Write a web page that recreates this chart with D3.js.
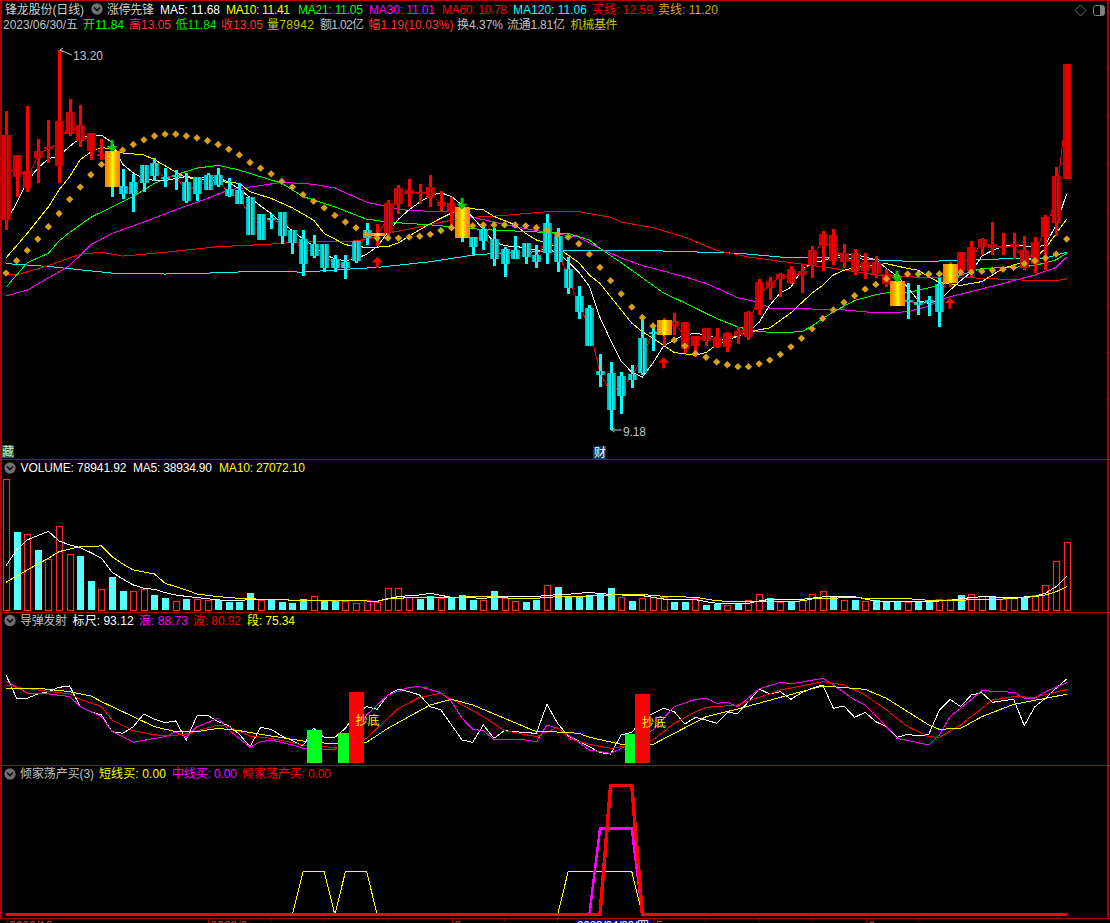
<!DOCTYPE html>
<html><head><meta charset="utf-8">
<style>html,body{margin:0;padding:0;background:#000;overflow:hidden}svg{display:block}text{font-family:"Liberation Sans","Noto Sans CJK SC",sans-serif;font-size:12px}</style>
<script src="https://cdn.jsdelivr.net/npm/d3@7/dist/d3.min.js"></script>
</head><body><div id="c"></div>
<script>
const open=[11.40,11.86,11.74,12.06,12.15,11.97,12.31,12.24,12.13,12.09,
12.13,11.76,11.80,11.98,12.00,11.86,11.88,11.80,11.86,11.88,
11.88,11.73,11.72,11.65,11.47,11.42,11.49,11.30,11.20,11.15,
11.15,10.99,10.96,11.18,11.30,11.23,11.26,11.57,11.68,11.69,
11.63,11.55,11.49,11.54,11.22,11.31,11.20,11.09,11.08,11.16,
11.03,11.37,11.23,10.88,10.60,10.47,9.80,9.78,9.75,9.77,
10.15,10.22,10.18,10.28,10.04,10.07,10.12,10.06,10.06,10.18,
10.16,10.45,10.68,10.78,10.74,10.82,10.93,11.13,10.97,10.96,
10.86,10.86,10.83,10.72,10.76,10.55,10.53,10.55,10.72,10.74,
10.86,10.86,11.12,11.11,11.12,11.12,10.89,10.94,11.22,11.37,11.84];
const close=[12.30,12.09,11.92,12.13,12.17,12.45,12.54,12.41,12.32,12.10,
11.75,11.68,11.68,11.79,11.87,11.85,11.87,11.60,11.68,11.72,
11.77,11.66,11.57,11.24,11.19,11.40,11.23,11.16,10.94,11.02,
10.89,10.89,10.89,10.97,11.21,11.26,11.58,11.74,11.72,11.70,
11.75,11.59,11.58,11.21,11.12,11.18,10.99,10.94,10.99,11.01,
10.96,11.05,10.96,10.68,10.43,10.07,9.76,9.39,9.54,9.71,
9.78,10.20,10.34,10.33,10.32,10.17,10.26,10.16,10.21,10.23,
10.43,10.75,10.76,10.83,10.88,10.86,11.08,11.25,11.24,11.05,
11.05,10.96,10.96,10.83,10.49,10.54,10.50,10.52,10.43,10.94,
11.06,11.12,11.20,11.15,11.13,11.15,11.08,11.17,11.43,11.87,13.05];
const high=[12.55,12.09,12.61,12.26,12.46,13.20,12.68,12.62,12.32,12.26,
12.13,11.94,11.89,11.98,12.06,11.95,11.93,11.90,11.86,11.90,
11.95,11.85,11.79,11.65,11.47,11.47,11.49,11.30,11.30,11.24,
11.15,11.03,11.03,11.18,11.37,11.36,11.61,11.77,11.84,11.78,
11.88,11.71,11.65,11.54,11.22,11.35,11.32,11.12,11.23,11.16,
11.14,11.46,11.32,11.01,10.70,10.50,9.98,9.90,9.79,9.87,
10.35,10.28,10.37,10.42,10.32,10.17,10.26,10.26,10.22,10.27,
10.44,10.78,10.80,10.84,10.92,10.94,11.13,11.29,11.31,11.15,
11.10,11.05,11.02,10.88,10.76,10.73,10.71,10.60,10.79,10.96,
11.06,11.18,11.21,11.38,11.26,11.26,11.23,11.22,11.45,11.96,13.05];
const low=[11.30,11.65,11.70,11.79,12.00,11.79,12.29,12.17,12.04,12.04,
11.65,11.62,11.49,11.70,11.81,11.75,11.72,11.58,11.60,11.72,
11.75,11.65,11.57,11.24,11.19,11.31,11.15,11.04,10.81,11.00,
10.85,10.85,10.78,10.95,11.14,11.13,11.23,11.46,11.54,11.57,
11.54,11.49,11.33,11.17,11.02,11.08,10.91,10.80,10.99,10.94,
10.89,10.94,10.85,10.62,10.35,10.07,9.63,9.18,9.35,9.62,
9.76,10.02,10.07,10.18,9.99,9.95,10.07,10.05,10.00,10.09,
10.13,10.40,10.55,10.59,10.72,10.63,10.79,10.86,10.93,10.89,
10.82,10.78,10.79,10.69,10.49,10.35,10.40,10.39,10.27,10.69,
10.81,10.80,11.03,11.03,11.03,10.99,10.87,10.84,10.87,11.23,11.84];
const buyLine=[11.85,11.98,11.83,12.09,12.16,12.21,12.42,12.32,12.22,12.10,
11.94,11.72,11.74,11.88,11.93,11.85,11.87,11.70,11.77,11.80,
11.82,11.69,11.64,11.44,11.33,11.41,11.36,11.23,11.07,11.08,
11.02,10.94,10.92,11.07,11.25,11.24,11.42,11.65,11.70,11.69,
11.69,11.57,11.53,11.37,11.17,11.24,11.09,11.01,11.03,11.08,
10.99,11.21,11.09,10.78,10.51,10.27,9.78,9.58,9.64,9.74,
9.96,10.21,10.26,10.30,10.18,10.12,10.19,10.11,10.13,10.20,
10.29,10.60,10.72,10.80,10.81,10.84,11.00,11.19,11.10,11.00,
10.95,10.91,10.89,10.77,10.62,10.54,10.51,10.53,10.57,10.84,
10.96,10.99,11.16,11.13,11.12,11.13,10.98,11.05,11.32,11.62,12.59];
const sellLine=[10.84,10.97,11.08,11.20,11.33,11.47,11.62,11.75,11.88,11.99,
12.09,12.14,12.20,12.25,12.29,12.31,12.31,12.29,12.27,12.24,
12.20,12.15,12.09,12.01,11.95,11.89,11.81,11.75,11.67,11.60,
11.53,11.45,11.38,11.32,11.25,11.21,11.21,11.21,11.22,11.23,
11.25,11.29,11.32,11.33,11.34,11.35,11.35,11.35,11.35,11.34,
11.32,11.29,11.25,11.22,11.15,11.04,10.90,10.76,10.62,10.48,
10.37,10.28,10.21,10.13,10.07,9.99,9.95,9.90,9.87,9.85,
9.85,9.88,9.92,9.98,10.06,10.15,10.25,10.36,10.45,10.53,
10.60,10.67,10.72,10.78,10.81,10.83,10.83,10.83,10.83,10.85,
10.85,10.85,10.86,10.87,10.88,10.90,10.94,10.97,11.00,11.04,11.20];
const ma5=[11.38,11.58,11.81,11.95,12.05,12.08,12.18,12.27,12.30,12.30,
12.22,11.99,11.90,11.84,11.82,11.82,11.84,11.86,11.85,11.85,
11.85,11.80,11.73,11.64,11.55,11.47,11.37,11.29,11.20,11.13,
11.04,10.99,10.97,10.99,11.04,11.12,11.27,11.41,11.51,11.59,
11.66,11.69,11.65,11.56,11.43,11.30,11.17,11.13,11.12,11.11,
11.08,11.09,11.06,10.96,10.85,10.70,10.37,10.13,9.91,9.79,
9.74,9.89,10.07,10.13,10.19,10.20,10.19,10.15,10.13,10.17,
10.22,10.32,10.50,10.63,10.69,10.87,10.95,10.97,11.01,11.04,
11.04,11.01,10.98,10.89,10.81,10.69,10.55,10.52,10.55,10.66,
10.76,10.85,11.02,11.08,11.12,11.14,11.13,11.11,11.14,11.35,11.68];
const ma10Idx=[0,2,4,5,6,7,8,9,10,11,13,14,16,17,20,22,23,25,27,29,30,32,34,36,37,39,41,43,45,46,48,49,50,51,52,54,55,56,58,59,60,61,63,65,66,67,69,71,72,74,76,77,78,79,80,83,85,86,87,88,90,92,93,94,96,97,98,99,100];
const ma10Val=[11.00,11.26,11.54,11.72,11.86,12.04,12.12,12.17,12.15,12.11,12.09,12.04,11.91,11.85,11.81,11.79,11.70,11.63,11.53,11.40,11.26,11.14,11.11,11.12,11.16,11.30,11.42,11.53,11.51,11.44,11.35,11.26,11.19,11.16,11.11,10.95,10.82,10.73,10.45,10.31,10.22,10.15,10.00,9.97,10.00,10.08,10.18,10.24,10.26,10.42,10.63,10.71,10.82,10.87,10.90,10.94,10.89,10.87,10.80,10.74,10.71,10.75,10.82,10.89,10.96,11.00,11.10,11.26,11.41];
const ma21Idx=[0,2,4,5,6,8,10,12,14,16,18,20,22,24,26,28,31,34,36,40,45,51,53,55,56,58,60,62,65,67,69,71,73,75,76,77,78,80,82,83,85,86,88,90,92,95,97,99,100];
const ma21Val=[10.69,10.95,11.05,11.18,11.27,11.43,11.54,11.65,11.79,11.88,11.95,11.98,11.93,11.86,11.79,11.65,11.54,11.41,11.38,11.35,11.30,11.27,11.26,11.19,11.10,10.95,10.79,10.63,10.47,10.36,10.27,10.22,10.21,10.22,10.28,10.36,10.43,10.55,10.61,10.63,10.63,10.66,10.71,10.82,10.89,10.90,10.92,10.98,11.05];
const ma30Idx=[0,2,4,6,8,10,13,16,19,21,23,26,29,31,34,36,38,42,44,46,48,51,54,56,58,60,64,66,69,71,72,76,79,82,85,87,88,89,94,97,99,100];
const ma30Val=[10.60,10.66,10.79,10.92,11.14,11.26,11.38,11.51,11.63,11.72,11.75,11.80,11.78,11.74,11.59,11.54,11.50,11.49,11.43,11.38,11.33,11.27,11.22,11.10,11.00,10.92,10.80,10.73,10.58,10.53,10.47,10.46,10.45,10.42,10.43,10.49,10.55,10.59,10.73,10.82,10.90,11.01];
const ma60Idx=[0,1,4,7,9,11,15,20,24,28,33,34,36,39,42,44,47,51,54,57,58,61,64,67,70,74,78,82,87,91,97,99,100];
const ma60Val=[10.83,10.82,10.92,11.04,11.06,11.02,11.06,11.12,11.14,11.17,11.18,11.20,11.26,11.33,11.40,11.43,11.45,11.49,11.49,11.43,11.38,11.32,11.22,11.08,11.01,10.95,10.89,10.82,10.79,10.79,10.76,10.76,10.78];
const ma120Idx=[0,4,10,15,19,24,28,32,35,40,44,45,53,60,66,69,74,79,82,86,91,94,98,100];
const ma120Val=[10.94,10.91,10.84,10.83,10.84,10.86,10.85,10.88,10.90,10.96,11.03,11.04,11.08,11.08,11.06,11.05,11.00,11.00,10.98,10.96,10.98,10.99,11.00,11.06];
const goldIdx=[10,35,43,62,84,89];
const sellSignalIdx=[10,43,84];
const sellSignalVal=[12.12,11.51,10.74];
const buySignalIdx=[35,62,89];
const buySignalVal=[11.01,9.95,10.58];
const volume=[152900,91000,88300,70000,59100,97600,65000,63000,33800,24100,
38500,22200,21800,24100,17500,14000,10100,12800,13200,11300,
11300,9300,9300,19800,11300,12100,9300,8200,12800,15900,
11300,11300,10900,8200,11300,9700,25300,25300,15200,13200,
15900,13600,15600,17500,11700,11300,22200,14400,10100,9300,
11700,28800,26800,15900,14800,17500,19800,25700,14800,10500,
13600,15200,14800,9300,9300,13600,5800,7400,6200,7400,
11300,18300,14000,9700,9700,11300,18300,21800,15900,11300,
11700,10500,11300,9700,10900,9700,9300,9300,12400,12400,
17500,18300,15900,15900,12400,14400,13600,17100,28800,56800,78941.92];
const volUp=[1,0,1,0,1,1,1,0,0,1, 0,0,1,1,0,0,1,0,1,1, 0,0,0,0,1,0,0,0,0,1, 0,0,1,1,1,1,1,1,1,0,
0,1,0,0,0,1,0,1,1,0, 0,1,0,0,0,0,0,0,1,0, 1,1,1,0,0,1,0,0,1,0, 1,1,0,1,0,1,1,1,0,1,
0,1,0,0,0,1,0,0,1,1, 0,1,1,0,1,1,0,1,1,1,1];
const volMa5Idx=[0,1,2,4,5,6,7,8,9,10,11,12,13,14,15,16,17,19,20,22,23,26,28,30,33,35,36,37,38,39,40,41,42,44,45,46,50,52,53,54,55,56,57,58,60,61,62,65,66,67,70,71,72,75,77,80,81,82,84,87,89,90,92,95,97,98,99,100];
const volMa5Val=[51700,70000,81700,91800,80500,75900,72700,66900,60300,44000,36200,29200,25300,24100,20200,17500,15900,13200,11700,10900,12400,12100,10500,11300,10900,10100,13200,15600,16700,17500,19500,17100,14800,14400,13200,15600,15900,17900,18300,19500,20600,19100,18300,17500,16700,14800,12800,12100,9700,7800,7800,10500,12400,12400,15200,15600,12800,10500,9700,9700,11300,13200,15600,14400,15900,19500,27200,38934.90];
const volMa10Idx=[0,2,4,5,7,9,10,11,12,14,15,17,18,20,22,25,28,33,35,36,38,41,46,48,50,52,54,57,60,61,63,65,66,67,68,72,75,76,77,80,82,85,87,90,91,94,95,97,98,99,100];
const volMa10Val=[32300,46700,60300,68100,73900,74700,62200,53700,46700,42000,31100,23300,18700,15600,13600,12100,11300,10900,10100,12800,14400,14800,15600,13200,13600,15600,15900,17500,18300,16700,15600,14800,12800,10900,10100,10100,10500,12800,13600,14400,13200,13200,11300,10500,12800,12800,13600,15600,17500,21400,27072.10];
const rulerVal=[97.7,70.7,70.7,75.7,78.4,83.4,85.0,61.0,55.2,51.4,
32.0,30.1,37.8,52.5,46.3,42.5,44.4,22.4,50.2,51.0,
43.6,39.0,28.9,14.6,37.0,34.7,27.0,21.6,15.4,35.9,
25.5,25.5,35.9,53.3,61.0,57.9,74.5,81.1,78.4,74.5,
61.0,57.2,39.8,22.4,19.7,39.8,24.3,33.2,32.0,30.9,
30.1,63.7,41.7,27.0,21.2,14.6,7.7,6.1,28.2,31.3,
45.6,53.3,59.1,55.2,40.9,48.6,45.6,41.7,54.1,53.3,
66.8,81.5,75.7,78.4,69.5,77.2,82.3,86.1,59.1,61.8,
48.6,54.4,43.6,37.8,25.5,28.9,27.0,28.9,57.2,69.5,
61.0,74.5,77.2,66.0,68.0,69.5,39.0,61.0,70.7,82.3,93.12];
const langIdx=[0,1,2,4,6,7,9,10,12,14,15,16,17,18,20,21,23,24,25,27,28,31,33,34,36,38,39,41,42,43,44,45,46,49,50,51,52,53,55,57,58,61,63,65,66,67,68,69,71,73,74,77,78,80,81,83,84,87,88,89,90,92,95,96,97,98,100];
const langVal=[90.0,84.2,76.5,75.7,72.6,61.0,49.4,32.0,19.7,24.3,26.2,32.0,25.5,37.8,47.5,34.0,13.9,20.4,22.4,16.6,12.7,11.5,28.2,51.4,74.5,83.4,84.2,77.2,66.8,47.5,34.7,33.2,23.1,22.4,20.4,39.8,35.9,28.2,10.8,6.9,12.7,34.0,61.0,69.5,70.7,64.9,66.0,61.0,81.5,89.2,87.3,93.9,86.1,68.7,63.0,37.8,24.3,16.6,28.2,49.4,59.1,79.6,77.6,70.7,70.7,78.4,88.73];
const boIdx=[0,1,3,6,7,9,10,12,14,16,17,20,21,23,25,28,30,32,34,37,39,41,43,45,47,50,52,53,55,57,59,61,63,65,66,69,71,73,75,77,79,81,83,85,87,88,90,92,93,95,97,100];
const boVal=[86.5,83.4,80.3,75.7,69.5,61.0,45.6,33.2,28.2,27.8,29.3,39.8,37.8,27.0,24.3,16.6,14.6,12.7,24.3,59.1,71.8,76.5,63.0,49.4,33.2,26.2,37.1,24.3,17.3,12.7,16.6,22.4,41.7,55.2,60.2,63.0,71.8,80.3,85.0,90.0,86.1,74.5,57.2,37.8,26.2,25.5,39.8,59.1,68.7,72.6,71.8,80.92];
const duanIdx=[0,3,6,8,9,12,14,16,18,20,22,25,28,31,34,36,40,42,44,47,50,52,54,55,58,61,63,66,69,73,77,81,83,87,88,90,92,95,98,100];
const duanVal=[82.3,82.3,78.4,73.4,66.8,49.4,37.8,32.0,32.0,35.9,33.2,27.0,21.2,17.7,19.7,35.9,63.0,69.5,63.0,47.5,32.0,31.6,30.1,25.5,17.3,17.3,30.1,49.4,58.3,71.8,85.0,81.1,70.7,39.8,34.7,35.9,49.4,63.7,70.7,75.34];
const signalBarIdx=[29,32,33,59,60];
const signalBarVal=[34.0,30.5,78.0,29.3,75.7];
const signalBarRed=[0,0,1,0,1];
const signalBase=-4.3;
const shortIdx=[0,27,28,30,31,32,34,35,52,53,59,60,100];
const shortVal=[0,0,1,1,0,1,1,0,0,1,1,0,0];
const midIdx=[0,55,56,59,60,100];
const midVal=[0,0,2,2,0,0];
const allInIdx=[0,56,57,59,60,100];
const allInVal=[0,0,3,3,0,0];
const axisMajorIdx=[0,19,42,61,81];
const axisMajorLabels=["2022/12","2023/2","3","5","6"];
const axisMinorIdx=[25,30,36,47,52,57,66,71,76,86];
const priceTicks=[13,12.5,12,11.5,11,10.5,10,9.5];

const W=1110,H=923;
const svg=d3.select("#c").append("svg").attr("width",W).attr("height",H);
svg.append("rect").attr("width",W).attr("height",H).attr("fill","#000");
const defs=svg.append("defs");
function grad(id,st){const g=defs.append("linearGradient").attr("id",id).attr("x1",0).attr("x2",1).attr("y1",0).attr("y2",0);
 st.forEach(s=>g.append("stop").attr("offset",s[0]).attr("stop-color",s[1]));}
grad("gRed",[[0,"#e00000"],[.22,"#c00000"],[.42,"#ff0000"],[.5,"#7a0000"],[.58,"#ff0000"],[.78,"#c00000"],[1,"#a00000"]]);
grad("gCyan",[[0,"#00a8a8"],[.3,"#00e8e8"],[.45,"#00ffff"],[.5,"#005858"],[.55,"#00ffff"],[.7,"#00e0e0"],[1,"#009090"]]);
grad("gGold",[[0,"#ff7a00"],[.3,"#ffae00"],[.5,"#ffff00"],[.7,"#ffae00"],[1,"#ff7a00"]]);

const n=close.length;
const x=d3.scaleLinear().domain([0,100]).range([6,1066.7]);
const yP=d3.scaleLinear().domain([9.18,13.20]).range([430,50]);
const yV=d3.scaleLinear().domain([0,78941.92]).range([610,542.3]);
const yS=d3.scaleLinear().domain([0,100]).range([759.3,673]);
const yB=d3.scaleLinear().domain([0,3]).range([914.7,785.7]);

function poly(g,idx,val,scale,color,w){
 const pts=idx.map((k,j)=>[k,val[j]]);
 g.append("path").attr("d",d3.line().x(d=>x(d[0])).y(d=>scale(d[1]))(pts))
  .attr("fill","none").attr("stroke",color).attr("stroke-width",w).attr("shape-rendering","crispEdges");
}
const seq=d3.range(n);

// ---- Main panel
const main=svg.append("g");
poly(main,ma120Idx,ma120Val,yP,"#00ffff",1);
poly(main,ma60Idx,ma60Val,yP,"#ff0000",1);
poly(main,ma30Idx,ma30Val,yP,"#ff00ff",1);
poly(main,ma21Idx,ma21Val,yP,"#00ff00",1);
poly(main,ma10Idx,ma10Val,yP,"#ffff00",1);
poly(main,seq,ma5,yP,"#ffffff",1);
poly(main,seq,buyLine,yP,"#e00000",1);
const cand=main.selectAll("g.c").data(seq).join("g");
cand.append("rect").attr("x",i=>Math.round(x(i))-1).attr("width",3)
 .attr("y",i=>yP(high[i])).attr("height",i=>Math.max(1,yP(low[i])-yP(high[i])))
 .attr("fill",i=>close[i]>=open[i]?"#ff0000":"#00ffff").attr("shape-rendering","crispEdges");
cand.append("rect").attr("x",i=>Math.round(x(i))-4).attr("width",9)
 .attr("y",i=>yP(Math.max(open[i],close[i]))).attr("height",i=>Math.max(2,Math.abs(yP(open[i])-yP(close[i]))))
 .attr("fill",i=>close[i]>=open[i]?"url(#gRed)":"url(#gCyan)").attr("shape-rendering","crispEdges");
main.selectAll("path.dot").data(sellLine).join("path").attr("class","dot")
 .attr("d",d3.symbol(d3.symbolSquare,27))
 .attr("transform",(d,i)=>`translate(${x(i)},${yP(d)}) rotate(45)`).attr("fill","#d8a018");
main.selectAll("rect.gold").data(goldIdx).join("rect").attr("class","gold")
 .attr("x",i=>Math.round(x(i))-7).attr("width",15)
 .attr("y",i=>yP(Math.max(open[i],close[i]))).attr("height",i=>Math.max(3,Math.abs(yP(open[i])-yP(close[i]))))
 .attr("fill","url(#gGold)").attr("shape-rendering","crispEdges");
main.selectAll("path.sell").data(sellSignalIdx).join("path").attr("class","sell")
 .attr("d","M-1.5,-12L1.5,-12L1.5,-6L5.5,-6L0,0L-5.5,-6L-1.5,-6Z")
 .attr("transform",(k,j)=>`translate(${x(k)},${yP(sellSignalVal[j])})`).attr("fill","#00cc00");
main.selectAll("path.buy").data(buySignalIdx).join("path").attr("class","buy")
 .attr("d","M-1.5,11L1.5,11L1.5,5.5L5.5,5.5L0,0L-5.5,5.5L-1.5,5.5Z")
 .attr("transform",(k,j)=>`translate(${x(k)},${yP(buySignalVal[j])})`).attr("fill","#ff0000");

function txt(xp,yp,s,c,w,anchor){
 const t=svg.append("text").attr("x",xp).attr("y",yp).attr("fill",c).text(s);
 if(w){t.attr("textLength",w).attr("lengthAdjust","spacing");}
 if(anchor)t.attr("text-anchor",anchor);
 return t;
}
// high/low annotations
const hiIdx=5,loIdx=57;
svg.append("path").attr("d",`M${x(hiIdx)+1},${yP(13.2)}L${x(hiIdx)+13},${yP(13.2)+5}M${x(hiIdx)+1},${yP(13.2)}l3,-2M${x(hiIdx)+1},${yP(13.2)}l3,2`).attr("stroke","#c0c0c0").attr("fill","none");
txt(73,60,"13.20","#c0c0c0",30);
svg.append("path").attr("d",`M${x(loIdx)+1},${yP(9.18)}L${x(loIdx)+11},${yP(9.18)}M${x(loIdx)+1},${yP(9.18)}l3,-2M${x(loIdx)+1},${yP(9.18)}l3,2`).attr("stroke","#c0c0c0").attr("fill","none");
txt(623,435.5,"9.18","#c0c0c0",23);
// event tags
svg.append("rect").attr("x",2).attr("y",445).attr("width",12).attr("height",13).attr("fill","#006400");
txt(2,456,"藏","#e0e0e0");
svg.append("rect").attr("x",593).attr("y",446).attr("width",13).attr("height",13).attr("fill","#0a3a6a");
txt(594,457,"财","#ffffff");

// ---- Volume panel
const vol=svg.append("g");
vol.selectAll("rect").data(seq).join("rect")
 .attr("x",i=>Math.round(x(i))-3+(volUp[i]?.5:0)).attr("width",i=>volUp[i]?6:7)
 .attr("y",i=>Math.round(yV(volume[i]))+(volUp[i]?.5:0)).attr("height",i=>610-Math.round(yV(volume[i])))
 .attr("fill",i=>volUp[i]?"#000":"#54ffff").attr("stroke",i=>volUp[i]?"#ff2828":"none").attr("stroke-width",1.2);
poly(vol,volMa5Idx,volMa5Val,yV,"#ffffff",1);
poly(vol,volMa10Idx,volMa10Val,yV,"#ffff00",1);

// ---- Missile panel
const mis=svg.append("g");
poly(mis,seq,rulerVal,yS,"#ffffff",1);
poly(mis,langIdx,langVal,yS,"#ff00ff",1);
poly(mis,boIdx,boVal,yS,"#ff0000",1);
poly(mis,duanIdx,duanVal,yS,"#ffff00",1);
mis.selectAll("rect").data(signalBarIdx).join("rect")
 .attr("x",k=>Math.round(x(k))-7).attr("width",15)
 .attr("y",(k,j)=>yS(signalBarVal[j])).attr("height",(k,j)=>yS(signalBase)-yS(signalBarVal[j]))
 .attr("fill",(k,j)=>signalBarRed[j]?"#ff0000":"#00ff20").attr("shape-rendering","crispEdges");
txt(355.5,725,"抄底","#ffff00");
txt(642,727,"抄底","#ffff00");

// ---- Bottom panel
const bot=svg.append("g");
poly(bot,shortIdx,shortVal,yB,"#ffff00",1);
poly(bot,midIdx,midVal,yB,"#ff00ff",2.5);
poly(bot,allInIdx,allInVal,yB,"#ff0000",3.5);

// ---- Frame
const frame="#b00000";
[0.5,459.5,612.5,765.5,918.5].forEach(v=>svg.append("line").attr("x1",0).attr("x2",W).attr("y1",v).attr("y2",v).attr("stroke",frame).attr("shape-rendering","crispEdges"));
[1,1108].forEach(v=>svg.append("line").attr("x1",v).attr("x2",v).attr("y1",0).attr("y2",919).attr("stroke",frame).attr("stroke-width",1.2).attr("shape-rendering","crispEdges"));
priceTicks.forEach(p=>svg.append("line").attr("x1",1106).attr("x2",1108).attr("y1",yP(p)).attr("y2",yP(p)).attr("stroke",frame));
// time axis
axisMinorIdx.forEach(k=>svg.append("line").attr("x1",x(k)).attr("x2",x(k)).attr("y1",919).attr("y2",921).attr("stroke",frame));
axisMajorIdx.forEach((k,j)=>{svg.append("line").attr("x1",x(k)+1).attr("x2",x(k)+1).attr("y1",919).attr("y2",923).attr("stroke",frame);
 txt(x(k)+3,930,axisMajorLabels[j],"#d04040");});
svg.append("rect").attr("x",575).attr("y",919).attr("width",76).attr("height",4).attr("fill","#000080");
txt(577,930,"2023/04/20/四","#ffffff",72);

// ---- Header rows
const row1=14,row2=29;
[[5,"锋龙股份(日线)","#d0d0d0",79],[107,"涨停先锋","#d0d0d0",47],[160,"MA5: 11.68","#ffffff",60],[226,"MA10: 11.41","#ffff00",64],
 [298,"MA21: 11.05","#00ff00",65],[369,"MA30: 11.01","#ff00ff",66],[442,"MA60: 10.78","#ff0000",65],[513,"MA120: 11.06","#00ffff",74],
 [592,"买线: 12.59","#ff0000",61],[658,"卖线: 11.20","#d8a018",60]].forEach(d=>txt(d[0],row1,d[1],d[2],d[3]));
[[3,"2023/06/30/五","#c0c0c0",75],[83,"开11.84","#00ff00",41],[129,"高13.05","#ff3232",42],[175.5,"低11.84","#00e000",41],
 [221,"收13.05","#ff3232",42],[267,"量78942","#c8c800",47],[320,"额1.02亿","#c0c0c0",44],[368.5,"幅1.19(10.03%)","#ff3232",85],
 [457,"换4.37%","#c0c0c0",46],[507,"流通1.81亿","#c0c0c0",58],[570.6,"机械基件","#c8c800",47]].forEach(d=>txt(d[0],row2,d[1],d[2],d[3]));
// panel legends
[[20.5,472,"VOLUME: 78941.92","#ffffff",106],[133,472,"MA5: 38934.90","#ffffff",79],[219,472,"MA10: 27072.10","#ffff00",86],
 [20,625,"导弹发射","#c0c0c0",47],[72.6,625,"标尺: 93.12","#ffffff",61],[139,625,"浪: 88.73","#ff00ff",49],[193,625,"波: 80.92","#ff0000",48],[247,625,"段: 75.34","#ffff00",48],
 [20,778,"倾家荡产买(3)","#c0c0c0",74],[99,778,"短线买: 0.00","#ffff00",67],[172,778,"中线买: 0.00","#ff00ff",65],[242,778,"倾家荡产买: 0.00","#ff0000",89]]
 .forEach(d=>txt(d[0],d[1],d[2],d[3],d[4]));
// fold icons
[[97,9],[10,468],[10,620.5],[10,774]].forEach(c=>{
 svg.append("circle").attr("cx",c[0]).attr("cy",c[1]).attr("r",5.7).attr("fill","#707070");
 svg.append("path").attr("d",`M${c[0]-3},${c[1]-1.5}L${c[0]},${c[1]+1.5}L${c[0]+3},${c[1]-1.5}`).attr("fill","none").attr("stroke","#101010").attr("stroke-width",1.6);
});
// top right icons
svg.append("path").attr("d","M1080.5,5L1086,10.5L1080.5,16L1075,10.5Z").attr("fill","none").attr("stroke","#707070");
svg.append("rect").attr("x",1093.5).attr("y",5.5).attr("width",11).attr("height",10).attr("rx",2).attr("fill","none").attr("stroke","#808080");
svg.append("rect").attr("x",1100).attr("y",6).attr("width",4).attr("height",9).attr("fill","#808080");
</script></body></html>
